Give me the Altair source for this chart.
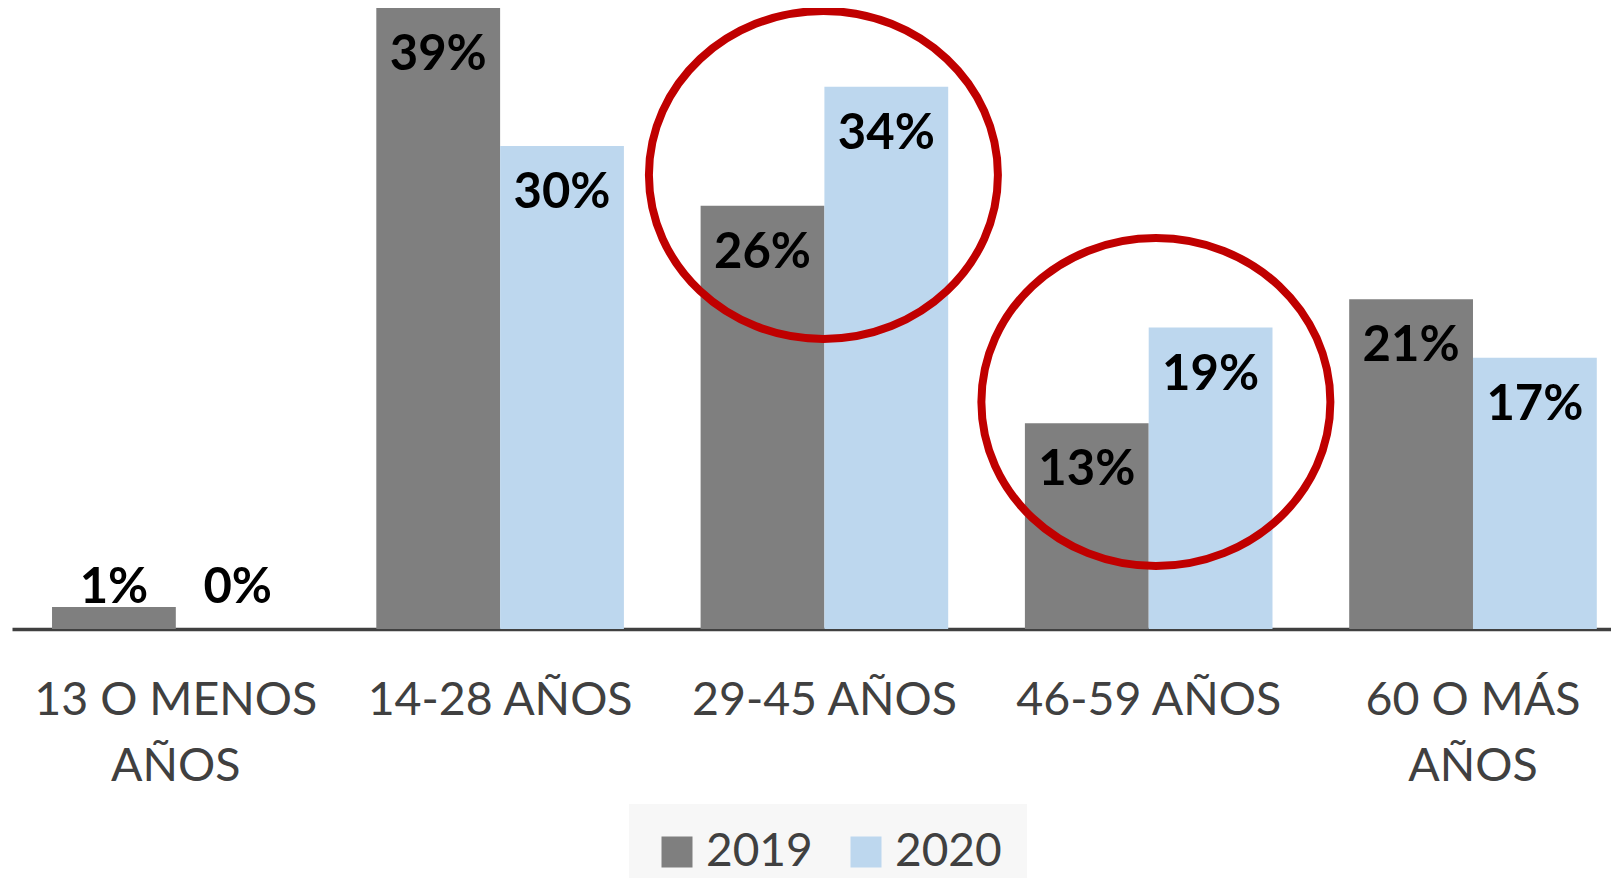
import altair as alt
import pandas as pd

# ---- data ----
categorias = ["13 O MENOS\nAÑOS", "14-28 AÑOS", "29-45 AÑOS", "46-59 AÑOS", "60 O MÁS\nAÑOS"]
anios = ["2019", "2020"]
valores_2019 = [1.37, 38.8, 26.45, 12.85, 20.6]
valores_2020 = [0.0, 30.18, 33.88, 18.83, 16.95]
etiquetas_2019 = ["1%", "39%", "26%", "13%", "21%"]
etiquetas_2020 = ["0%", "30%", "34%", "19%", "17%"]

# highlighted groups (red ellipses): category, centre level (%) and position within the group band
resaltar_cat = ["29-45 AÑOS", "46-59 AÑOS"]
resaltar_y = [28.37, 14.18]
resaltar_banda = [0.496, 0.529]

colores = ["#7F7F7F", "#BDD7EE"]
FONT = "Lato"

rows = []
for c, v19, v20, e19, e20 in zip(categorias, valores_2019, valores_2020, etiquetas_2019, etiquetas_2020):
    rows.append({"categoria": c, "anio": "2019", "valor": v19, "etiqueta": e19})
    rows.append({"categoria": c, "anio": "2020", "valor": v20, "etiqueta": e20})
df = pd.DataFrame(rows)

x_enc = alt.X(
    "categoria:N",
    sort=categorias,
    scale=alt.Scale(domain=categorias, paddingInner=0.2365, paddingOuter=0.0836, align=0.738),
    axis=alt.Axis(
        title=None,
        labelExpr="split(datum.value, '\\n')",
        labelFont=FONT,
        labelFontSize=46.5,
        labelColor="#404040",
        labelBaseline="alphabetic",
        labelPadding=85,
        labelLineHeight=66,
        labelAngle=0,
        labelLimit=0,
        labelOverlap=False,
        ticks=False,
        tickSize=0,
        domainColor="#404040",
        domainWidth=3.5,
        grid=False,
    ),
)
xoff_enc = alt.XOffset("anio:N", sort=anios, scale=alt.Scale(domain=anios, paddingInner=0, paddingOuter=0))
y_scale = alt.Scale(domain=[0, 38.8], nice=False, zero=True)
y_enc = alt.Y("valor:Q", scale=y_scale, axis=None)

base = alt.Chart(df)

bars = base.mark_bar().encode(
    x=x_enc,
    xOffset=xoff_enc,
    y=y_enc,
    color=alt.Color(
        "anio:N",
        sort=anios,
        scale=alt.Scale(domain=anios, range=colores),
        legend=alt.Legend(
            title=None,
            orient="none",
            legendX=617,
            legendY=796,
            direction="horizontal",
            symbolType="square",
            symbolSize=961,
            symbolStrokeWidth=0,
            symbolOpacity=1,
            labelFont=FONT,
            labelFontSize=46,
            labelColor="#404040",
            labelOffset=6,
            columnPadding=30,
            fillColor="#F7F7F7",
            padding=25,
        ),
    ),
)

labels_in = base.transform_filter("datum.valor >= 5").mark_text(
    baseline="alphabetic", align="center", dy=62, font=FONT, fontWeight="bold", fontSize=49, color="#000000"
).encode(x=alt.X("categoria:N", sort=categorias), xOffset=alt.XOffset("anio:N", sort=anios), y=alt.Y("valor:Q"), text="etiqueta:N")

labels_out = base.transform_joinaggregate(
    maximo="max(valor)", groupby=["categoria"]
).transform_filter("datum.valor < 5").mark_text(
    baseline="alphabetic", align="center", dy=-4, font=FONT, fontWeight="bold", fontSize=49, color="#000000"
).encode(x=alt.X("categoria:N", sort=categorias), xOffset=alt.XOffset("anio:N", sort=anios), y=alt.Y("maximo:Q"), text="etiqueta:N")

# ellipse outline as custom symbol (unit box)
RX, RY = 174.5, 164.0
r = RY / RX
k = 0.5523
ell_path = (
    f"M -1 0 C -1 {-k*r:.4f} {-k:.4f} {-r:.4f} 0 {-r:.4f} "
    f"C {k:.4f} {-r:.4f} 1 {-k*r:.4f} 1 0 "
    f"C 1 {k*r:.4f} {k:.4f} {r:.4f} 0 {r:.4f} "
    f"C {-k:.4f} {r:.4f} -1 {k*r:.4f} -1 0 Z"
)

ellipses = []
for c, yv, bp in zip(resaltar_cat, resaltar_y, resaltar_banda):
    dfe = pd.DataFrame({"categoria": [c], "valor": [yv]})
    ellipses.append(
        alt.Chart(dfe).mark_point(
            shape=ell_path, filled=False, stroke="#C00000", strokeWidth=8, size=(2 * RX) ** 2, opacity=1
        ).encode(x=alt.X("categoria:N", sort=categorias, bandPosition=bp), y=alt.Y("valor:Q"))
    )

chart = alt.layer(bars, labels_in, labels_out, *ellipses).properties(
    width=1599,
    height=621,
    autosize=alt.AutoSizeParams(type="none"),
    padding={"left": 4, "top": 0, "right": 0, "bottom": 249},
).configure_view(stroke=None)

chart.save("out.html", embed_options={"renderer": "svg", "actions": False})
